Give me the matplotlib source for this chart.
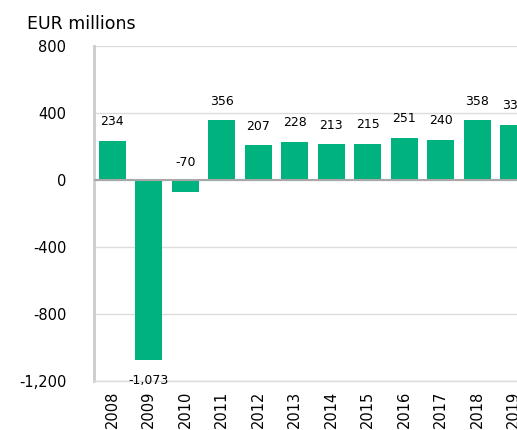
import matplotlib.pyplot as plt
from matplotlib.ticker import FuncFormatter

years = ["2008", "2009", "2010", "2011", "2012", "2013",
         "2014", "2015", "2016", "2017", "2018", "2019"]
values = [234, -1073, -70, 356, 207, 228, 213, 215, 251, 240, 358, 331]

bar_color = "#00b27d"

fig = plt.figure(figsize=(5.17, 4.30), dpi=100)
# axes runs a little past the right edge, so the last bar is cut off
ax = fig.add_axes([0.182, 0.114, 0.847, 0.779])

x = range(len(years))
ax.bar(x, values, width=0.74, color=bar_color, zorder=3)

ax.set_ylim(-1200, 800)
ax.set_xlim(-0.5, len(years) - 0.5)
ax.set_yticks([-1200, -800, -400, 0, 400, 800])
ax.yaxis.set_major_formatter(FuncFormatter(lambda v, _: f"{int(v):,}"))
ax.grid(axis="y", color="#dcdcdc", linewidth=1, zorder=0)
ax.axhline(0, color="#a8a8a8", linewidth=1.5, zorder=4)

for s in ["top", "right"]:
    ax.spines[s].set_visible(False)
ax.spines["left"].set_color("#cccccc")
ax.spines["left"].set_linewidth(2)
ax.spines["bottom"].set_color("#dcdcdc")
ax.spines["bottom"].set_linewidth(1)

ax.set_xticks(list(x))
ax.set_xticklabels(years, rotation=90, fontsize=10.5)
ax.tick_params(axis="x", length=0, pad=7)
ax.tick_params(axis="y", length=0, pad=20, labelsize=10.5)

# value labels: above the bar, or above the zero line for small negatives
for i, v in enumerate(values):
    if v >= 0:
        ax.annotate(f"{v:,}", (i, v), xytext=(0, 9), textcoords="offset points",
                    ha="center", va="bottom", fontsize=9)
    elif v > -400:
        ax.annotate(f"{v:,}", (i, 0), xytext=(0, 8), textcoords="offset points",
                    ha="center", va="bottom", fontsize=9)
    else:
        ax.annotate(f"{v:,}", (i, v), xytext=(0, -10), textcoords="offset points",
                    ha="center", va="top", fontsize=9)

fig.text(0.052, 0.944, "EUR millions", fontsize=12.5, ha="left", va="center")

fig.savefig("out.png", dpi=100)
